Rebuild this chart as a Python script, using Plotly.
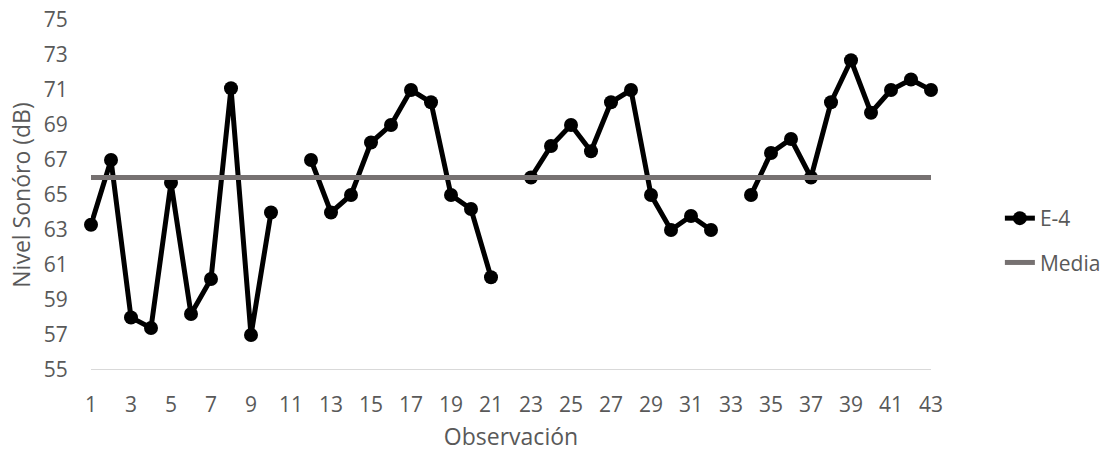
import plotly.graph_objects as go

# Observation numbers and sound level readings (dB); None marks a missing reading
observacion = list(range(1, 44))
nivel_e4 = [
    63.3, 67.0, 58.0, 57.4, 65.7, 58.2, 60.2, 71.1, 57.0, 64.0,
    None, 67.0, 64.0, 65.0, 68.0, 69.0, 71.0, 70.3, 65.0, 64.2,
    60.3, None, 66.0, 67.8, 69.0, 67.5, 70.3, 71.0, 65.0, 63.0,
    63.8, 63.0, None, 65.0, 67.4, 68.2, 66.0, 70.3, 72.7, 69.7,
    71.0, 71.6, 71.0,
]
media = [66.0] * len(observacion)

x_ticks = list(range(1, 44, 2))
y_ticks = list(range(55, 76, 2))

FONT = "Open Sans"
TEXT = "#595959"

fig = go.Figure()
fig.add_trace(go.Scatter(
    x=observacion, y=nivel_e4, name="E-4", mode="lines+markers",
    line=dict(color="#000000", width=5),
    marker=dict(color="#000000", size=14),
    connectgaps=False, cliponaxis=False, legendgroup="a",
))
fig.add_trace(go.Scatter(
    x=observacion, y=media, name="Media", mode="lines",
    line=dict(color="#767171", width=5), cliponaxis=False, legendgroup="b",
))

fig.update_layout(
    width=1107, height=452,
    margin=dict(l=91, r=176, t=20, b=82, autoexpand=False),
    paper_bgcolor="white", plot_bgcolor="white",
    font=dict(family=FONT, color=TEXT, size=21),
    showlegend=True,
    legend=dict(
        x=1.082, xanchor="left", y=0.37, yanchor="middle",
        font=dict(size=21, color=TEXT), traceorder="grouped",
        tracegroupgap=14, bgcolor="rgba(0,0,0,0)",
    ),
    xaxis=dict(
        range=[1, 43], tickmode="array", tickvals=x_ticks,
        ticktext=[str(v) for v in x_ticks], automargin=False,
        showgrid=False, zeroline=False, showline=False,
        ticks="outside", ticklen=16, tickcolor="rgba(0,0,0,0)",
        title=dict(text="Observación", font=dict(size=23), standoff=12),
    ),
    yaxis=dict(
        range=[55, 75], tickmode="array", tickvals=y_ticks, automargin=False,
        showgrid=False, zeroline=False, showline=False,
        ticks="outside", ticklen=18, tickcolor="rgba(0,0,0,0)",
        title=dict(text="Nivel Sonóro (dB)", font=dict(size=23), standoff=6),
    ),
    shapes=[dict(
        type="line", xref="x", yref="y", x0=1, x1=43, y0=55, y1=55,
        line=dict(color="#d9d9d9", width=2), layer="below",
    )],
)

fig.write_html("out.html")
